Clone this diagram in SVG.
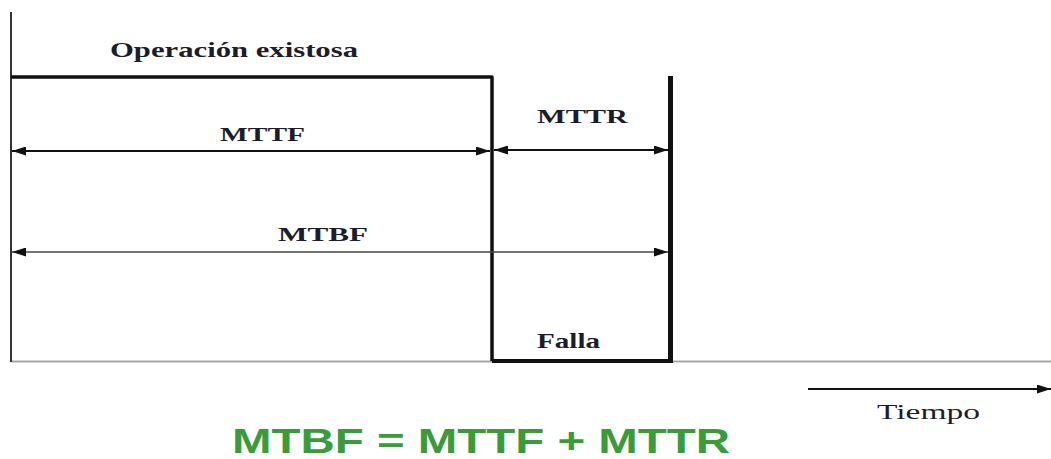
<svg xmlns="http://www.w3.org/2000/svg" width="1051" height="459" viewBox="0 0 1051 459">
  <style>
    .lbl { font-family: "Liberation Serif", "Times New Roman", serif; font-weight: bold; fill: #1c1c2a; }
    .reg { font-family: "Liberation Serif", "Times New Roman", serif; fill: #1c1c2a; }
    .formula { font-family: "Liberation Sans", Arial, sans-serif; font-weight: bold; fill: #3a9b3a; }
    .dim { stroke: #111; stroke-width: 2; fill: none; }
    .dim-thin { stroke: #444; stroke-width: 1.5; fill: none; }
  </style>
  <defs>
    <marker id="head" viewBox="0 0 14 9" refX="14" refY="4.5" markerWidth="14" markerHeight="9" markerUnits="userSpaceOnUse" orient="auto-start-reverse">
      <path d="M0,0 L14,4.5 L0,9 z" fill="#111"/>
    </marker>
  </defs>
  <rect width="1051" height="459" fill="#fff"/>

  <!-- time baseline -->
  <line x1="11" y1="361.5" x2="1051" y2="361.5" stroke="#a8a8a8" stroke-width="2"/>
  <!-- vertical axis -->
  <line x1="11" y1="12" x2="11" y2="362" stroke="#333" stroke-width="2"/>

  <!-- operating state: up until failure -->
  <g id="operacion">
    <polyline points="11,77 492,77 492,361" fill="none" stroke="#111" stroke-width="3.5" stroke-linejoin="round"/>
    <text class="lbl" x="110" y="57" font-size="21" textLength="248" lengthAdjust="spacingAndGlyphs">Operación existosa</text>
  </g>

  <!-- failure state: down until repair -->
  <g id="falla">
    <polyline points="492,361 670,361" fill="none" stroke="#111" stroke-width="4"/>
    <line x1="670.5" y1="76" x2="670.5" y2="363" stroke="#111" stroke-width="5"/>
    <text class="lbl" x="537" y="348" font-size="21" textLength="63" lengthAdjust="spacingAndGlyphs">Falla</text>
  </g>

  <!-- interval dimensions -->
  <g id="connectors">
    <line class="dim" x1="12" y1="151" x2="490" y2="151" marker-start="url(#head)" marker-end="url(#head)"/>
    <line class="dim" x1="494" y1="150" x2="668" y2="150" marker-start="url(#head)" marker-end="url(#head)"/>
    <line class="dim-thin" x1="12" y1="252" x2="668" y2="252" marker-start="url(#head)" marker-end="url(#head)"/>
    <line class="dim" x1="808" y1="389" x2="1051" y2="389" marker-end="url(#head)"/>
  </g>

  <g id="mttf"><text class="lbl" x="220" y="141" font-size="19" textLength="85" lengthAdjust="spacingAndGlyphs">MTTF</text></g>
  <g id="mttr"><text class="lbl" x="537" y="123" font-size="19" textLength="91" lengthAdjust="spacingAndGlyphs">MTTR</text></g>
  <g id="mtbf"><text class="lbl" x="278" y="241" font-size="19" textLength="90" lengthAdjust="spacingAndGlyphs">MTBF</text></g>
  <g id="tiempo"><text class="reg" x="877" y="419" font-size="21" textLength="103" lengthAdjust="spacingAndGlyphs">Tiempo</text></g>

  <g id="formula">
    <text class="formula" x="232" y="453" font-size="35" textLength="498" lengthAdjust="spacingAndGlyphs">MTBF = MTTF + MTTR</text>
  </g>
</svg>
